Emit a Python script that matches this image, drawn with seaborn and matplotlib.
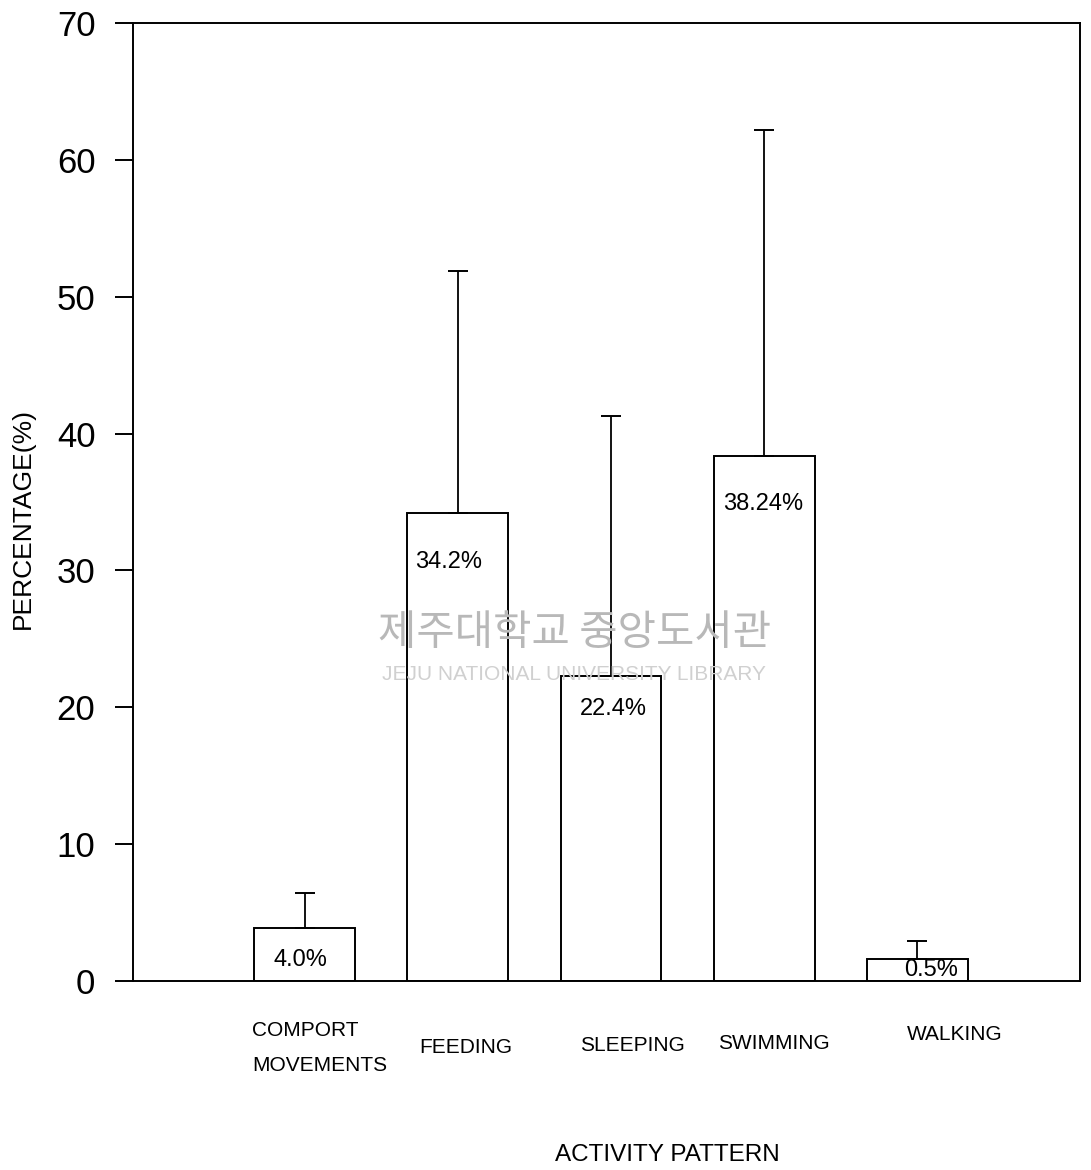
import numpy as np
import matplotlib.pyplot as plt
import seaborn as sns

# Values
categories = ['COMPORT\nMOVEMENTS', 'FEEDING', 'SLEEPING', 'SWIMMING', 'WALKING']
percent = [3.9, 34.2, 22.3, 38.4, 1.6]
sd_upper = [2.5, 17.7, 19.0, 23.8, 1.3]
bar_labels = ['4.0%', '34.2%', '22.4%', '38.24%', '0.5%']
yticks = [0, 10, 20, 30, 40, 50, 60, 70]

# pixel nudges so the labels sit like in the scan
label_dx = [-5, -9, 2, -1, 14]
label_dy = [32, 49, 33, 48, 11]
tick_dx = [15, 8, 21, 10, 38]
tick_dy = [67, 66, 64, 62, 53]

sns.set_theme(style='white')
plt.rcParams['font.family'] = ['Liberation Sans', 'DejaVu Sans']

fig = plt.figure(figsize=(10.91, 11.70), dpi=100)
ax = fig.add_axes([0.1219, 0.1615, 0.868, 0.8188])

x = np.arange(len(categories))
sns.barplot(x=x, y=percent, color='white', edgecolor='black', linewidth=1.4,
            width=0.66, saturation=1, errorbar=None, ax=ax, zorder=2)

# one-sided error bars (upper only)
ax.errorbar(x, percent, yerr=[np.zeros(len(x)), sd_upper], fmt='none',
            ecolor='black', elinewidth=1.3, capsize=7, capthick=1.4, zorder=3)

for i, lab in enumerate(bar_labels):
    ax.annotate(lab, xy=(i, percent[i]), xytext=(label_dx[i], -label_dy[i]),
                textcoords='offset pixels', ha='center', va='center',
                fontsize=17, color='black', zorder=4)

# category names below the axis
for i, cat in enumerate(categories):
    ax.annotate(cat, xy=(i, 0), xycoords=('data', 'axes fraction'),
                xytext=(tick_dx[i], -tick_dy[i]), textcoords='offset pixels',
                ha='center', va='center', multialignment='left',
                fontsize=15, linespacing=2.05, color='black')

ax.set_xlim(-1.124, 5.065)
ax.set_ylim(0, 70)
ax.set_yticks(yticks)
ax.set_xticks([])
ax.tick_params(axis='y', direction='out', length=13, width=1.4, pad=14,
               labelsize=25, colors='black', left=True)

for sp in ax.spines.values():
    sp.set_color('black')
    sp.set_linewidth(1.4)

ax.set_xlabel('ACTIVITY PATTERN', fontsize=17.5, color='black')
ax.xaxis.set_label_coords(0.564, -0.1816)
ax.xaxis.label.set_va('center')
ax.set_ylabel('PERCENTAGE(%)', fontsize=19, color='black')
ax.yaxis.set_label_coords(-0.116, 0.483)
ax.yaxis.label.set_va('center')

# library watermark from the scan
fig.text(575 / 1091, 1 - 633 / 1170, '제주대학교 중앙도서관', fontsize=30,
         color='#b8b8b8', family=['Noto Sans CJK KR', 'DejaVu Sans'],
         ha='center', va='center', zorder=10)
fig.text(574 / 1091, 1 - 675 / 1170, 'JEJU NATIONAL UNIVERSITY LIBRARY',
         fontsize=15, color='#d0d0d0', ha='center', va='center', zorder=10)

fig.savefig('out.png', dpi=100, facecolor='white')
